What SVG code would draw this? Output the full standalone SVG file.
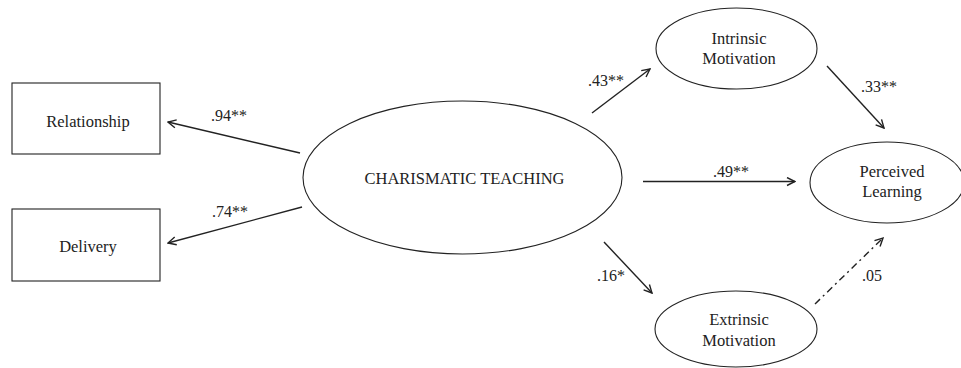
<svg xmlns="http://www.w3.org/2000/svg" width="961" height="368" viewBox="0 0 961 368">
<defs>
<style>
.node{fill:#fff;stroke:#222;stroke-width:1.1}
.t{font-family:"Liberation Serif","Times New Roman",serif;font-size:16.5px;fill:#222;text-anchor:middle}
.lbl{font-family:"Liberation Serif","Times New Roman",serif;font-size:16px;fill:#222}
.edge{stroke:#222;stroke-width:1.4;fill:none;marker-end:url(#ah)}
.dd{stroke-dasharray:7,4,2,4}
</style>
<marker id="ah" viewBox="0 0 10 10" refX="9" refY="5" markerWidth="10" markerHeight="10" markerUnits="userSpaceOnUse" orient="auto">
<path d="M1,1 L9,5 L1,9" fill="none" stroke="#222" stroke-width="1.4"/>
</marker>
</defs>
<rect width="961" height="368" fill="#fff"/>
<g id="relationship"><rect class="node" x="12" y="83" width="148" height="71"/><text class="t" x="88" y="127">Relationship</text></g>
<g id="delivery"><rect class="node" x="12" y="209" width="148" height="72"/><text class="t" x="88" y="252">Delivery</text></g>
<g id="charismatic"><ellipse class="node" cx="462.5" cy="177.5" rx="159.5" ry="76.5"/><text class="t" x="464.5" y="184">CHARISMATIC TEACHING</text></g>
<g id="intrinsic"><ellipse class="node" cx="736.5" cy="48.5" rx="80.5" ry="40.5"/><text class="t" x="739" y="44">Intrinsic</text><text class="t" x="739" y="64">Motivation</text></g>
<g id="extrinsic"><ellipse class="node" cx="736" cy="329" rx="81" ry="38"/><text class="t" x="739" y="325">Extrinsic</text><text class="t" x="739" y="346">Motivation</text></g>
<g id="perceived"><ellipse class="node" cx="887" cy="182.5" rx="77" ry="40.5"/><text class="t" x="892" y="177">Perceived</text><text class="t" x="892" y="197">Learning</text></g>
<g id="connectors">
<line class="edge" x1="300" y1="153" x2="168" y2="122"/>
<line class="edge" x1="302" y1="207" x2="168" y2="243"/>
<line class="edge" x1="592" y1="113" x2="650" y2="69"/>
<line class="edge" x1="643" y1="181.5" x2="795" y2="181.5"/>
<line class="edge" x1="604" y1="242" x2="652" y2="293"/>
<line class="edge" x1="827" y1="66" x2="884" y2="128"/>
<line class="edge dd" x1="815" y1="304" x2="883" y2="238"/>
<text class="lbl" x="211" y="121">.94**</text>
<text class="lbl" x="212" y="217">.74**</text>
<text class="lbl" x="588" y="86">.43**</text>
<text class="lbl" x="713" y="177">.49**</text>
<text class="lbl" x="597" y="281">.16*</text>
<text class="lbl" x="861" y="92">.33**</text>
<text class="lbl" x="862" y="281">.05</text>
</g>
</svg>
